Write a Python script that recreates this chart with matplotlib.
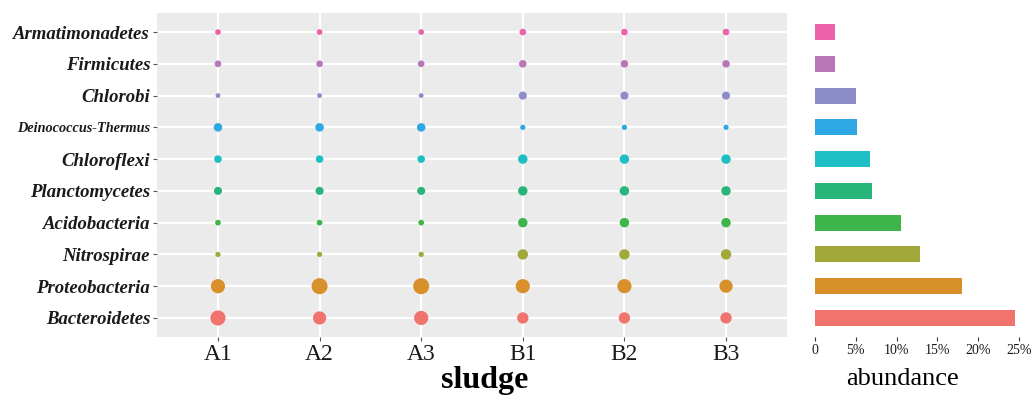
import matplotlib.pyplot as plt
import numpy as np

# phyla, bottom to top
phyla = ['Bacteroidetes', 'Proteobacteria', 'Nitrospirae', 'Acidobacteria',
         'Planctomycetes', 'Chloroflexi', 'Deinococcus-Thermus', 'Chlorobi',
         'Firmicutes', 'Armatimonadetes']
samples = ['A1', 'A2', 'A3', 'B1', 'B2', 'B3']
colors = ['#F0736E', '#D8902A', '#A2A83A', '#3DB54A', '#27B57A',
          '#1DBEC4', '#2DA8E4', '#8C8CC8', '#B877B4', '#EB62AA']

# relative abundance (%) per sample, rows follow phyla order
A1 = [20.7, 18.0, 1.9, 2.3, 5.2, 4.5, 5.9, 1.5, 3.3, 2.3]
A2 = [15.5, 23.5, 1.9, 2.3, 5.2, 4.5, 5.9, 1.5, 3.3, 2.3]
A3 = [18.0, 23.5, 1.9, 2.3, 5.2, 4.5, 5.9, 1.5, 3.3, 2.3]
B1 = [11.1, 18.0, 9.2, 7.4, 7.4, 7.4, 1.9, 5.2, 4.5, 3.3]
B2 = [11.1, 18.0, 9.2, 7.4, 7.4, 7.4, 1.9, 5.2, 4.5, 3.3]
B3 = [11.1, 15.5, 9.2, 7.4, 7.4, 7.4, 1.9, 5.2, 4.5, 3.3]
abundance = [24.5, 18.0, 12.9, 10.5, 7.0, 6.8, 5.1, 5.0, 2.5, 2.4]

plt.rcParams['font.family'] = 'Liberation Serif'
fig = plt.figure(figsize=(10.33, 3.96), dpi=100)
W, H = 1033, 396
ax = fig.add_axes([157/W, 1-337/H, (787-157)/W, (337-13)/H])
ax2 = fig.add_axes([800/W, 1-337/H, (1032-800)/W, (337-13)/H])

ax.set_facecolor('#EBEBEB')
for s in ax.spines.values():
    s.set_visible(False)
ypos = np.arange(1, len(phyla)+1)
xpos = np.arange(1, len(samples)+1)
for y in ypos:
    ax.axhline(y, color='white', lw=1.6, zorder=1)
for x in xpos:
    ax.axvline(x, color='white', lw=1.6, zorder=1)

data = [A1, A2, A3, B1, B2, B3]
for i, col in enumerate(data):
    sizes = [(0.72*(1.0 + 3.1*np.sqrt(v)))**2 for v in col]
    ax.scatter([xpos[i]]*len(phyla), ypos, s=sizes, c=colors, linewidths=0, zorder=3)

ax.set_xlim(0.4, 6.6)
ax.set_ylim(0.4, 10.6)
ax.set_xticks(xpos)
ax.set_xticklabels(samples, fontsize=17, color='#1a1a1a')
ax.set_yticks(ypos)
ax.set_yticklabels(phyla, fontsize=13.5, fontweight='bold', style='italic', color='#1a1a1a')
ax.get_yticklabels()[6].set_fontsize(10.3)
ax.tick_params(axis='both', length=3, color='#555555', width=0.8, pad=2)
ax.set_xlabel('sludge', fontsize=23, fontweight='bold', labelpad=0.5)
ax.xaxis.label.set_x(0.52)

ax2.barh(ypos, abundance, height=0.5, color=colors)
ax2.set_xlim(-1.84, 26.6)
ax2.set_ylim(0.4, 10.6)
for s in ax2.spines.values():
    s.set_visible(False)
ax2.set_yticks([])
ax2.set_xticks([0, 5, 10, 15, 20, 25])
ax2.set_xticklabels(['0', '5%', '10%', '15%', '20%', '25%'], fontsize=10, color='#1a1a1a')
ax2.tick_params(axis='x', length=3, color='#333333', width=0.8, pad=2)
ax2.set_xlabel('abundance', fontsize=19, labelpad=8)
ax2.xaxis.label.set_x(0.44)

fig.savefig('out.png', dpi=100)
